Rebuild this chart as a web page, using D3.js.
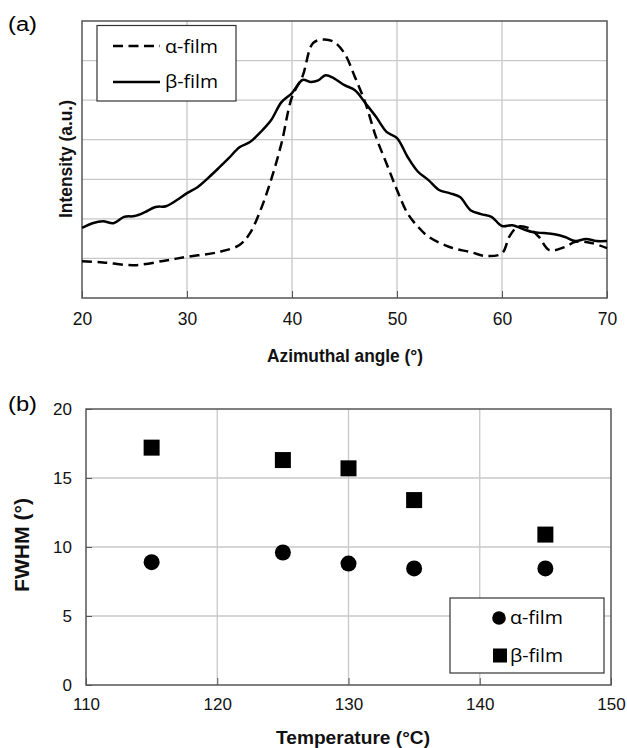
<!DOCTYPE html>
<html><head><meta charset="utf-8">
<script src="https://cdn.jsdelivr.net/npm/d3@7"></script>
<style>
html,body{margin:0;padding:0;background:#fff;}
svg{display:block;}
.tick text{font-family:"Liberation Sans",Arial,sans-serif;}
</style></head>
<body>
<svg id="c" width="627" height="748"></svg>
<script>
// ---- Panel (a) data: azimuthal angle (°) vs intensity (a.u.) ----
const alphaAngle = [20,22,25,28,30,33,35,36,37,38,39,40,41,42,43,44,45,46,47,48,49,50,51,52,53,55,57,58.5,60,60.7,61.5,62.5,63.5,64.5,66,67,68.5,70];
const alphaInt   = [0.93,0.9,0.83,0.95,1.04,1.16,1.34,1.64,2.22,2.98,3.91,5.08,5.6,6.44,6.53,6.47,6.18,5.58,4.92,4.07,3.4,2.73,2.14,1.8,1.55,1.29,1.16,1.06,1.13,1.55,1.8,1.77,1.55,1.21,1.29,1.42,1.39,1.26];
const betaAngle  = [20,21,22,23,24,25,26,27,28,29,30,31,32,33,34,35,36,37,38,39,40,41,41.8,42.5,43.2,44,45,46,47,48,49,50,51,52,53,54,55,56,57,58,59,60,61,62,63,64,65,66,67,68,69,70];
const betaInt    = [1.77,1.89,1.94,1.89,2.05,2.07,2.17,2.3,2.32,2.47,2.65,2.8,3.03,3.28,3.54,3.81,3.94,4.19,4.49,4.95,5.18,5.51,5.46,5.5,5.63,5.55,5.38,5.25,4.92,4.58,4.2,4.04,3.57,3.19,2.98,2.73,2.65,2.55,2.22,2.12,2.05,1.82,1.84,1.74,1.66,1.64,1.61,1.54,1.44,1.49,1.44,1.44];
const aTicksX = [20,30,40,50,60,70];
const aGridY  = [1,2,3,4,5,6];

// ---- Panel (b) data: temperature (°C) vs FWHM (°) ----
const temps     = [115,125,130,135,145];
const fwhmAlpha = [8.9,9.6,8.8,8.45,8.45];
const fwhmBeta  = [17.2,16.3,15.7,13.4,10.9];
const bTicksX = [110,120,130,140,150];
const bTicksY = [0,5,10,15,20];

const seriesNames = ["α-film","β-film"];

const svg = d3.select("#c");
const FONT = '"Liberation Sans",Arial,sans-serif';
const LFONT = '"Open Sans","Liberation Sans",sans-serif';
const gridC = "#c8c8c8", frameC = "#555";
const DASH = "10,5.5";

function title(g, txt, x, y, size, len, rot){
  const t = g.append("text").attr("text-anchor","middle").attr("font-family",FONT)
    .attr("font-weight","bold").attr("font-size",size).attr("fill","#111")
    .attr("textLength",len).attr("lengthAdjust","spacingAndGlyphs").text(txt);
  if(rot) t.attr("transform",`translate(${x},${y}) rotate(-90)`);
  else t.attr("x",x).attr("y",y);
  return t;
}

// ===== Panel (a) =====
const ax = d3.scaleLinear().domain([20,70]).range([82,607]);
const ay = d3.scaleLinear().domain([0,7]).range([298,21]);
const ga = svg.append("g");
ga.append("g").selectAll("line").data(aGridY).join("line")
  .attr("x1",ax(20)).attr("x2",ax(70)).attr("y1",d=>ay(d)).attr("y2",d=>ay(d))
  .attr("stroke",gridC).attr("stroke-width",1.3);
ga.append("g").selectAll("line").data(aTicksX.slice(1,-1)).join("line")
  .attr("x1",d=>ax(d)).attr("x2",d=>ax(d)).attr("y1",ay(0)).attr("y2",ay(7))
  .attr("stroke",gridC).attr("stroke-width",1.3);
const axA = ga.append("g").attr("transform",`translate(0,${ay(0)})`)
  .call(d3.axisBottom(ax).tickValues(aTicksX).tickSizeInner(-7).tickSizeOuter(0).tickPadding(15));
axA.select(".domain").remove();
axA.selectAll(".tick line").attr("stroke",frameC);
axA.selectAll(".tick text").attr("font-size",17.5).attr("fill","#111");
ga.append("rect").attr("x",ax(20)).attr("y",ay(7)).attr("width",ax(70)-ax(20)).attr("height",ay(0)-ay(7))
  .attr("fill","none").attr("stroke",frameC).attr("stroke-width",1.5);

const lineA = d3.line().x(d=>ax(d[0])).y(d=>ay(d[1])).curve(d3.curveCatmullRom.alpha(0.5));
ga.append("path").datum(alphaAngle.map((a,i)=>[a,alphaInt[i]])).attr("d",lineA)
  .attr("fill","none").attr("stroke","#000").attr("stroke-width",2.5).attr("stroke-dasharray",DASH);
ga.append("path").datum(betaAngle.map((a,i)=>[a,betaInt[i]])).attr("d",lineA)
  .attr("fill","none").attr("stroke","#000").attr("stroke-width",2.5);

ga.append("text").attr("x",8).attr("y",31).text("(a)").attr("font-family",FONT).attr("font-size",20)
  .attr("textLength",29).attr("lengthAdjust","spacingAndGlyphs");
title(ga,"Intensity (a.u.)",72,159,18,118,true);
title(ga,"Azimuthal angle (°)",345,362,18.5,156,false);

// legend (a)
const la = ga.append("g");
la.append("rect").attr("x",97).attr("y",25.5).attr("width",139).attr("height",75.5).attr("fill","#fff").attr("stroke","#333").attr("stroke-width",1.2);
la.append("line").attr("x1",113).attr("x2",160).attr("y1",46).attr("y2",46).attr("stroke","#000").attr("stroke-width",2.5).attr("stroke-dasharray",DASH);
la.append("line").attr("x1",113).attr("x2",160).attr("y1",82).attr("y2",82).attr("stroke","#000").attr("stroke-width",2.5);
la.selectAll("text").data(seriesNames).join("text").attr("x",165).attr("y",(d,i)=>[52.5,88][i])
  .attr("font-family",LFONT).attr("font-size",18).attr("textLength",53).attr("lengthAdjust","spacingAndGlyphs").text(d=>d);

// ===== Panel (b) =====
const bx = d3.scaleLinear().domain([110,150]).range([86,611]);
const by = d3.scaleLinear().domain([0,20]).range([685,409]);
const gb = svg.append("g");
gb.append("g").selectAll("line").data(bTicksY.slice(1,-1)).join("line")
  .attr("x1",bx(110)).attr("x2",bx(150)).attr("y1",d=>by(d)).attr("y2",d=>by(d))
  .attr("stroke",gridC).attr("stroke-width",1.3);
gb.append("g").selectAll("line").data(bTicksX.slice(1,-1)).join("line")
  .attr("x1",d=>bx(d)).attr("x2",d=>bx(d)).attr("y1",by(0)).attr("y2",by(20))
  .attr("stroke",gridC).attr("stroke-width",1.3);
const axBx = gb.append("g").attr("transform",`translate(0,${by(0)})`)
  .call(d3.axisBottom(bx).tickValues(bTicksX).tickSizeInner(-7).tickSizeOuter(0).tickPadding(13));
axBx.select(".domain").remove();
axBx.selectAll(".tick line").attr("stroke",frameC);
axBx.selectAll(".tick text").attr("font-size",17).attr("fill","#111");
const axBy = gb.append("g").attr("transform",`translate(${bx(110)},0)`)
  .call(d3.axisLeft(by).tickValues(bTicksY).tickSizeInner(-6).tickSizeOuter(0).tickPadding(14));
axBy.select(".domain").remove();
axBy.selectAll(".tick line").attr("stroke",frameC);
axBy.selectAll(".tick text").attr("font-size",17).attr("fill","#111");
gb.append("rect").attr("x",bx(110)).attr("y",by(20)).attr("width",bx(150)-bx(110)).attr("height",by(0)-by(20))
  .attr("fill","none").attr("stroke",frameC).attr("stroke-width",1.5);

gb.append("g").selectAll("circle").data(temps.map((t,i)=>[t,fwhmAlpha[i]])).join("circle")
  .attr("cx",d=>bx(d[0])).attr("cy",d=>by(d[1])).attr("r",8).attr("fill","#000");
gb.append("g").selectAll("rect").data(temps.map((t,i)=>[t,fwhmBeta[i]])).join("rect")
  .attr("x",d=>bx(d[0])-8).attr("y",d=>by(d[1])-8).attr("width",16).attr("height",16).attr("fill","#000");

gb.append("text").attr("x",8).attr("y",411).text("(b)").attr("font-family",FONT).attr("font-size",20)
  .attr("textLength",29).attr("lengthAdjust","spacingAndGlyphs");
title(gb,"FWHM (°)",29,545,19.5,94,true);
title(gb,"Temperature (°C)",353,744,19,154,false);

// legend (b)
const lb = gb.append("g");
lb.append("rect").attr("x",450).attr("y",598).attr("width",154).attr("height",75).attr("fill","#fff").attr("stroke","#333").attr("stroke-width",1.2);
lb.append("circle").attr("cx",499).attr("cy",618).attr("r",6.8).attr("fill","#000");
lb.append("rect").attr("x",493).attr("y",648.5).attr("width",14).attr("height",14).attr("fill","#000");
lb.selectAll("text").data(seriesNames).join("text").attr("x",510).attr("y",(d,i)=>[624,662][i])
  .attr("font-family",LFONT).attr("font-size",18).attr("textLength",53).attr("lengthAdjust","spacingAndGlyphs").text(d=>d);
</script>
</body></html>
